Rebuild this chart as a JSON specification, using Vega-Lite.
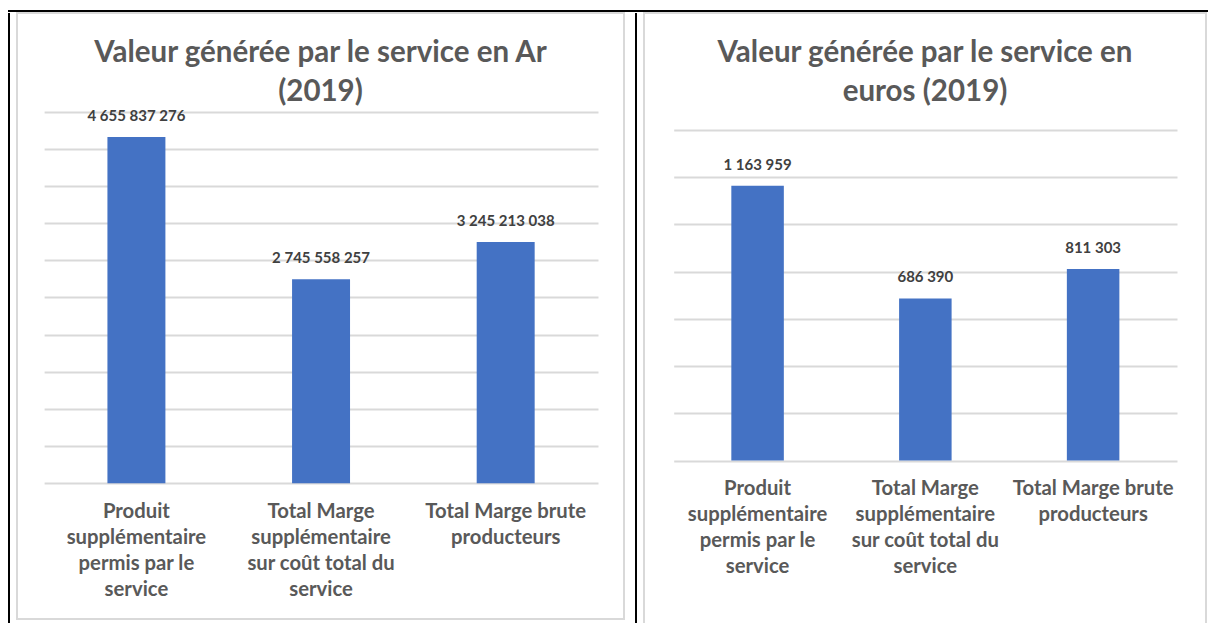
{
  "$schema": "https://vega.github.io/schema/vega-lite/v6.json",
  "padding": {"left": 8, "top": 10, "right": 0, "bottom": 0},
  "autosize": {"type": "pad"},
  "background": "white",
  "datasets": {
    "ar": [
      {"poste": "Produit supplémentaire permis par le service", "valeur": 4655837276},
      {"poste": "Total Marge supplémentaire sur coût total du service", "valeur": 2745558257},
      {"poste": "Total Marge brute producteurs", "valeur": 3245213038}
    ],
    "eur": [
      {"poste": "Produit supplémentaire permis par le service", "valeur": 1163959},
      {"poste": "Total Marge supplémentaire sur coût total du service", "valeur": 686390},
      {"poste": "Total Marge brute producteurs", "valeur": 811303}
    ],
    "vide": []
  },
  "config": {
    "view": {"stroke": null},
    "locale": {"number": {"decimal": ",", "thousands": " ", "grouping": [3], "currency": ["", " €"]}},
    "font": "Lato",
    "title": {"font": "Lato", "fontSize": 29.5, "fontWeight": "bold", "color": "#595959", "lineHeight": 39, "anchor": "middle", "frame": "group"},
    "axis": {"labelFont": "Lato", "titleFont": "Lato"}
  },
  "spacing": 1,
  "bounds": "flush",
  "vconcat": [
    {"width": 1200, "height": 2, "data": {"name": "vide"}, "mark": "point", "view": {"fill": "#000000", "stroke": null}},
    {
      "spacing": 0,
      "bounds": "flush",
      "hconcat": [
        {"width": 2, "height": 611, "data": {"name": "vide"}, "mark": "point", "view": {"fill": "#000000", "stroke": null}},
        {"width": 7, "height": 611, "data": {"name": "vide"}, "mark": "point", "view": {"stroke": null}},
        {
          "width": 607,
          "height": 606,
          "view": {"stroke": "#d9d9d9", "strokeWidth": 2},
          "title": {"text": ["Valeur générée par le service en Ar", "(2019)"], "offset": -94},
          "data": {"name": "ar"},
          "encoding": {
            "x": {
              "field": "poste", "type": "nominal", "sort": null,
              "scale": {"range": [27.1, 581], "paddingInner": 0, "paddingOuter": 0},
              "axis": {
                "title": null, "orient": "bottom", "offset": -135.7, "labelAngle": 0,
                "ticks": false, "domain": false, "grid": false,
                "labelFontSize": 20.3, "labelFontWeight": "bold", "labelColor": "#595959",
                "labelLineHeight": 26, "labelPadding": 18, "labelLimit": 400, "labelOverlap": false,
                "labelExpr": "datum.value == 'Produit supplémentaire permis par le service' ? ['Produit', 'supplémentaire', 'permis par le', 'service'] : datum.value == 'Total Marge supplémentaire sur coût total du service' ? ['Total Marge', 'supplémentaire', 'sur coût total du', 'service'] : ['Total Marge brute', 'producteurs']"
              }
            },
            "y": {
              "field": "valeur", "type": "quantitative",
              "scale": {"domain": [0, 5000000000], "range": [470.3, 98.5], "nice": false, "zero": true},
              "axis": {
                "title": null, "labels": false, "ticks": false, "domain": false, "grid": true,
                "gridColor": "#d9d9d9", "gridWidth": 1.8,
                "values": [0, 500000000, 1000000000, 1500000000, 2000000000, 2500000000, 3000000000, 3500000000, 4000000000, 4500000000, 5000000000]
              }
            }
          },
          "layer": [
            {"mark": {"type": "bar", "color": "#4472C4", "width": {"band": 0.314}}},
            {
              "mark": {"type": "text", "dy": -21, "baseline": "middle", "align": "center", "font": "Lato", "fontSize": 15, "fontWeight": "bold", "color": "#404040"},
              "encoding": {"text": {"field": "valeur", "type": "quantitative", "format": ",d"}}
            }
          ]
        },
        {"width": 11, "height": 611, "data": {"name": "vide"}, "mark": "point", "view": {"stroke": null}},
        {"width": 2, "height": 611, "data": {"name": "vide"}, "mark": "point", "view": {"fill": "#000000", "stroke": null}},
        {"width": 7, "height": 611, "data": {"name": "vide"}, "mark": "point", "view": {"stroke": null}},
        {
          "width": 562,
          "height": 611,
          "view": {"stroke": "#d9d9d9", "strokeWidth": 2},
          "title": {"text": ["Valeur générée par le service en", "euros (2019)"], "offset": -94},
          "data": {"name": "eur"},
          "encoding": {
            "x": {
              "field": "poste", "type": "nominal", "sort": null,
              "scale": {"range": [29.7, 533], "paddingInner": 0, "paddingOuter": 0},
              "axis": {
                "title": null, "orient": "bottom", "offset": -163.5, "labelAngle": 0,
                "ticks": false, "domain": false, "grid": false,
                "labelFontSize": 20.3, "labelFontWeight": "bold", "labelColor": "#595959",
                "labelLineHeight": 26, "labelPadding": 18, "labelLimit": 400, "labelOverlap": false,
                "labelExpr": "datum.value == 'Produit supplémentaire permis par le service' ? ['Produit', 'supplémentaire', 'permis par le', 'service'] : datum.value == 'Total Marge supplémentaire sur coût total du service' ? ['Total Marge', 'supplémentaire', 'sur coût total du', 'service'] : ['Total Marge brute', 'producteurs']"
              }
            },
            "y": {
              "field": "valeur", "type": "quantitative",
              "scale": {"domain": [0, 1400000], "range": [447.5, 117], "nice": false, "zero": true},
              "axis": {
                "title": null, "labels": false, "ticks": false, "domain": false, "grid": true,
                "gridColor": "#d9d9d9", "gridWidth": 1.8,
                "values": [0, 200000, 400000, 600000, 800000, 1000000, 1200000, 1400000]
              }
            }
          },
          "layer": [
            {"mark": {"type": "bar", "color": "#4472C4", "width": {"band": 0.313}}},
            {
              "mark": {"type": "text", "dy": -21, "baseline": "middle", "align": "center", "font": "Lato", "fontSize": 15, "fontWeight": "bold", "color": "#404040"},
              "encoding": {"text": {"field": "valeur", "type": "quantitative", "format": ",d"}}
            }
          ]
        }
      ]
    }
  ]
}
